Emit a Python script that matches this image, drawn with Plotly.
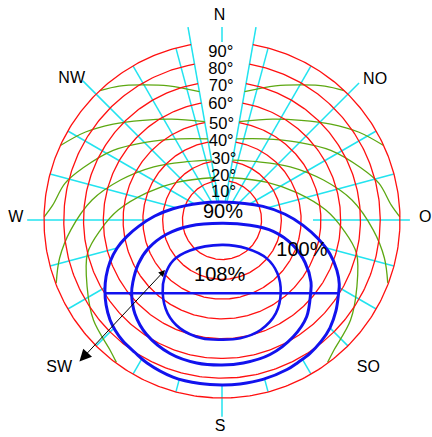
import numpy as np
import plotly.graph_objects as go

# ---------------- data (diagram units: 1 unit = 1 degree of tilt) ----------------
tilt_circles = [20, 30, 40, 50, 60, 70, 80, 90]
tilt_label_values = [90, 80, 70, 60, 50, 40, 30, 20, 10]
azimuth_grid = list(range(15, 360, 15))          # cyan orientation lines
gap_azimuths = [10, 350]                          # lines framing the label column
compass_names = ["N", "NO", "O", "SO", "S", "SW", "W", "NW"]

# yield contours (x = east component, y = north component of tilt vector)
y90_x = [0, 20.7, 31.9, 41.0, 48.5, 54.6, 58.1, 59.3, 58.9, 57.6, 54.6, 50.1, 44.5, 38.4, 32.9,
         20.7, 9.1, 0, -11.1, -24.8, -37.9, -44.0, -50.1, -54.1, -56.6, -58.6, -59.2, -58.6,
         -56.6, -53.1, -48.2, -42.0, -34.0, -24.8, -11.1, 0]
y90_y = [9.1, 6.9, 2.9, -2.7, -9.4, -17.2, -25.5, -32.5, -37.4, -46.0, -54.5, -61.4, -67.4, -72.0,
         -75.6, -80.6, -82.9, -83.4, -82.7, -79.4, -72.3, -67.0, -61.2, -55.6, -50.6, -43.0, -35.4,
         -28.6, -21.1, -14.3, -8.4, -3.1, 2.0, 5.7, 8.5, 9.1]

y100_x = [0, 14.2, 25.9, 36.0, 42.0, 45.0, 44.8, 42.8, 36.0, 24.3, 10.8, 0, -12.8, -26.3, -38.1,
          -44.0, -45.7, -45.1, -42.3, -37.3, -28.0, -16.2, 0]
y100_y = [-1.7, -2.7, -5.7, -12.8, -21.5, -31.4, -37.1, -48.9, -59.0, -68.0, -72.3, -73.3, -72.3,
          -67.5, -57.9, -47.5, -37.1, -31.6, -22.2, -14.4, -7.2, -3.0, -1.7]

y108_x = [0, 12.5, 22.6, 28.0, 29.7, 27.2, 19.5, 9.2, 0, -10.2, -21.2, -27.5, -30.0, -28.8,
          -24.6, -16.2, 0]
y108_y = [-12.6, -14.4, -19.4, -26.9, -36.8, -47.2, -55.6, -59.8, -60.5, -59.8, -54.8, -47.2,
          -36.8, -27.9, -20.4, -15.4, -12.6]

optimum_line_x = [-59.2, 58.9]
optimum_line_y = [-37.0, -37.0]

yield_labels = ["90%", "100%", "108%"]

# green auxiliary curves (right halves; left halves are their mirror images)
g1_xr = [11.4, 27.0, 40.5, 52.0, 61.8]
g1_y = [64.9, 67.8, 68.3, 67.7, 65.4]
g2_xr = [8.7, 25.5, 40.0, 55.0, 69.0, 81.5]
g2_y = [49.7, 51.0, 50.4, 48.5, 44.5, 37.8]
g3_xr = [7.2, 21.2, 38.1, 55.0, 70.0, 79.4, 85.6, 89.9]
g3_y = [41.0, 41.0, 39.4, 35.2, 26.5, 18.5, 7.5, 1.6]
g4_xr = [5.3, 17.8, 34.5, 51.3, 65.7, 76.5, 82.1, 83.8]
g4_y = [30.3, 29.5, 26.9, 20.2, 10.1, -5.1, -19.2, -31.8]
g5_xr = [3.7, 22.9, 38.1, 52.5, 61.5, 68.0, 68.2, 65.0, 56.5, 53.4]
g5_y = [21.5, 19.0, 13.7, 5.0, -5.1, -16.8, -33.8, -50.6, -66.0, -72.0]
g1_xl = [-v for v in g1_xr]
g2_xl = [-v for v in g2_xr]
g3_xl = [-v for v in g3_xr]
g4_xl = [-v for v in g4_xr]
g5_xl = [-v for v in g5_xr]

# ---------------- layout helpers (positions / styles) ----------------
RED = "#FF1010"
CYAN = "#22E3EF"
GREEN = "#5DA812"
BLUE = "#1212EE"
FONT = "Arial, Liberation Sans, sans-serif"

line_extent = {0: (90, 97.6), 45: (0, 98), 90: (46, 95), 180: (0, 99.5),
               270: (0, 98.5), 315: (0, 99.5)}
compass_pos = {"N": (-1.2, 103.3), "NO": (77.4, 70.9), "O": (102.7, 1.0), "SO": (74.0, -74.6),
               "S": (-1.0, -104.9), "SW": (-82.3, -74.7), "W": (-104.2, 1.0), "NW": (-76.0, 71.4)}
deg_label_x = [-0.6, -0.6, -0.4, -0.6, -0.2, -0.4, 1.0, 0.8, 0.8]
deg_label_y = [84.6, 75.8, 67.4, 58.1, 48.0, 39.6, 30.3, 21.9, 13.5]
yield_label_pos = [(0.5, 3.7), (40.4, -15.7), (-1.2, -28.3)]

fig = go.Figure()

# cyan orientation lines
cx, cy = [], []
for az in [0] + azimuth_grid + gap_azimuths:
    if az == 0:
        r0, r1 = line_extent[0]
    elif az in gap_azimuths:
        r0, r1 = 0, 99
    else:
        r0, r1 = line_extent.get(az, (0, 90))
    a = np.radians(az)
    cx += [r0 * np.sin(a), r1 * np.sin(a), None]
    cy += [r0 * np.cos(a), r1 * np.cos(a), None]
fig.add_trace(go.Scatter(x=cx, y=cy, mode="lines", line=dict(color=CYAN, width=1.5),
                         hoverinfo="skip"))

# green curves
for xs, ys in [(g1_xl, g1_y), (g1_xr, g1_y), (g2_xl, g2_y), (g2_xr, g2_y),
               (g3_xl, g3_y), (g3_xr, g3_y), (g4_xl, g4_y), (g4_xr, g4_y),
               (g5_xl, g5_y), (g5_xr, g5_y)]:
    fig.add_trace(go.Scatter(x=xs, y=ys, mode="lines", line=dict(color=GREEN, width=1.3, shape="spline"),
                             hoverinfo="skip"))

# white mask inside the 90% contour
fig.add_trace(go.Scatter(x=y90_x, y=y90_y, mode="lines", fill="toself", fillcolor="white",
                         line=dict(color="white", width=0, shape="spline"), hoverinfo="skip"))

# red tilt circles (broken in the label column)
rx, ry = [], []
ang = np.radians(np.linspace(10, 350, 400))
for r in tilt_circles:
    rx += list(r * np.sin(ang)) + [None]
    ry += list(r * np.cos(ang)) + [None]
fig.add_trace(go.Scatter(x=rx, y=ry, mode="lines", line=dict(color=RED, width=1.3), hoverinfo="skip"))

# blue yield contours
for xs, ys, w in [(y90_x, y90_y, 3), (y100_x, y100_y, 3), (y108_x, y108_y, 2.6)]:
    fig.add_trace(go.Scatter(x=xs, y=ys, mode="lines", line=dict(color=BLUE, width=w, shape="spline"),
                             hoverinfo="skip"))
fig.add_trace(go.Scatter(x=optimum_line_x, y=optimum_line_y, mode="lines",
                         line=dict(color=BLUE, width=2.6), hoverinfo="skip"))

# texts
fig.add_trace(go.Scatter(x=[compass_pos[n][0] for n in compass_names],
                         y=[compass_pos[n][1] for n in compass_names],
                         text=compass_names, mode="text", textposition="middle center",
                         textfont=dict(family=FONT, size=16, color="black"), hoverinfo="skip"))
fig.add_trace(go.Scatter(x=deg_label_x, y=deg_label_y, text=[f"{t}°" for t in tilt_label_values],
                         mode="text", textposition="middle center",
                         textfont=dict(family=FONT, size=16.5, color="black"), hoverinfo="skip"))
fig.add_trace(go.Scatter(x=[p[0] for p in yield_label_pos], y=[p[1] for p in yield_label_pos],
                         text=yield_labels, mode="text", textposition="middle center",
                         textfont=dict(family=FONT, size=20, color="black"), hoverinfo="skip"))

# double-headed arrow toward SW
fig.add_annotation(x=-28.8, y=-25.3, ax=-72.8, ay=-72.3, xref="x", yref="y", axref="x", ayref="y",
                   text="", showarrow=True, arrowhead=2, arrowsize=1.3, arrowwidth=1,
                   arrowcolor="black", arrowside="end+start", startarrowhead=2, startarrowsize=2.4)

s = 178 / 90.0
fig.update_layout(
    width=432, height=437, margin=dict(l=0, r=0, t=0, b=0),
    paper_bgcolor="white", plot_bgcolor="white", showlegend=False,
    xaxis=dict(range=[-222 / s, (432 - 222) / s], visible=False, fixedrange=True),
    yaxis=dict(range=[-(437 - 220) / s, 220 / s], visible=False, fixedrange=True),
)

fig.write_html("out.html", config={"displayModeBar": False},
               post_script="document.body.style.margin='0';document.body.style.overflow='hidden';")
